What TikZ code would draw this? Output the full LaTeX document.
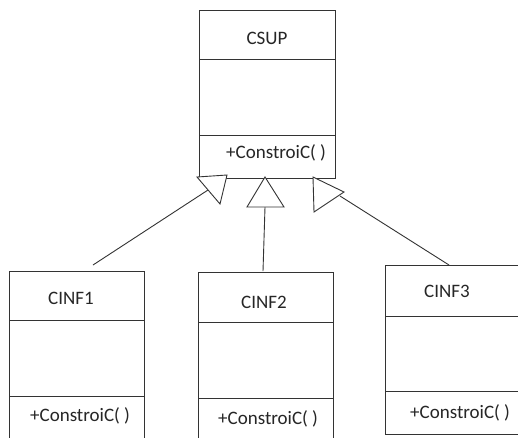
\documentclass[tikz,border=0pt]{standalone}
\usepackage{fontspec}
\setmainfont{Carlito}
\begin{document}
\begin{tikzpicture}[x=1pt,y=-1pt,
  part/.style={draw=black!80, line width=0.9pt, minimum width=#1, inner sep=0pt, anchor=north west},
  ttl/.style={font=\fontsize{19}{22}\selectfont, text=black!85, inner sep=0pt},
  meth/.style={font=\fontsize{19}{22}\selectfont, text=black!85, inner sep=0pt, anchor=west},
  conn/.style={draw=black!80, line width=0.9pt},
  tri/.style={draw=black!80, line width=0.9pt, fill=white, line join=miter}]
\clip (0,0) rectangle (518,437);
\fill[white] (0,0) rectangle (518,437);
% CSUP
\node[part=136pt, minimum height=49pt] (supT) at (199,10) {};
\node[part=136pt, minimum height=76pt] (supA) at (199,59) {};
\node[part=136pt, minimum height=43pt] (supM) at (199,135) {};
\node[ttl] (supTx) at (267,38) {CSUP};
\node[meth] (supMx) at (226,153) {+ConstroiC( )};
% CINF1
\node[part=135pt, minimum height=49pt] (i1T) at (9,271) {};
\node[part=135pt, minimum height=76pt] (i1A) at (9,320) {};
\node[part=135pt, minimum height=50pt] (i1M) at (9,396) {};
\node[ttl] (i1Tx) at (71,298) {CINF1};
\node[meth] (i1Mx) at (30,416) {+ConstroiC( )};
% CINF2
\node[part=135pt, minimum height=50pt] (i2T) at (198,272) {};
\node[part=135pt, minimum height=76pt] (i2A) at (198,322) {};
\node[part=135pt, minimum height=50pt] (i2M) at (198,398) {};
\node[ttl] (i2Tx) at (264,302) {CINF2};
\node[meth] (i2Mx) at (218,419) {+ConstroiC( )};
% CINF3
\node[part=140pt, minimum height=51pt] (i3T) at (385,265) {};
\node[part=140pt, minimum height=75pt] (i3A) at (385,316) {};
\node[part=140pt, minimum height=43pt] (i3M) at (385,391) {};
\node[ttl] (i3Tx) at (447,291) {CINF3};
\node[meth] (i3Mx) at (410,413) {+ConstroiC( )};
% triangles
\coordinate (t1a) at (197,177); \coordinate (t1b) at (227,175); \coordinate (t1c) at (220,204);
\coordinate (t1m) at (208,190);
\coordinate (t2a) at (265,177); \coordinate (t2b) at (247,207); \coordinate (t2c) at (284,207);
\coordinate (t2m) at (265,207);
\coordinate (t3a) at (313,177); \coordinate (t3b) at (344,192); \coordinate (t3c) at (314,212);
\coordinate (t3m) at (340,196);
\coordinate (e1) at (93,265);
\coordinate (e2) at (263,271);
\coordinate (e3) at (449,265);
% connectors
\draw[conn] (e1) -- (t1m);
\draw[conn] (e2) -- (t2m);
\draw[conn] (e3) -- (t3m);
\draw[tri] (t1a) -- (t1b) -- (t1c) -- cycle;
\draw[tri] (t2a) -- (t2b) -- (t2c) -- cycle;
\draw[tri] (t3a) -- (t3b) -- (t3c) -- cycle;
\end{tikzpicture}
\end{document}
